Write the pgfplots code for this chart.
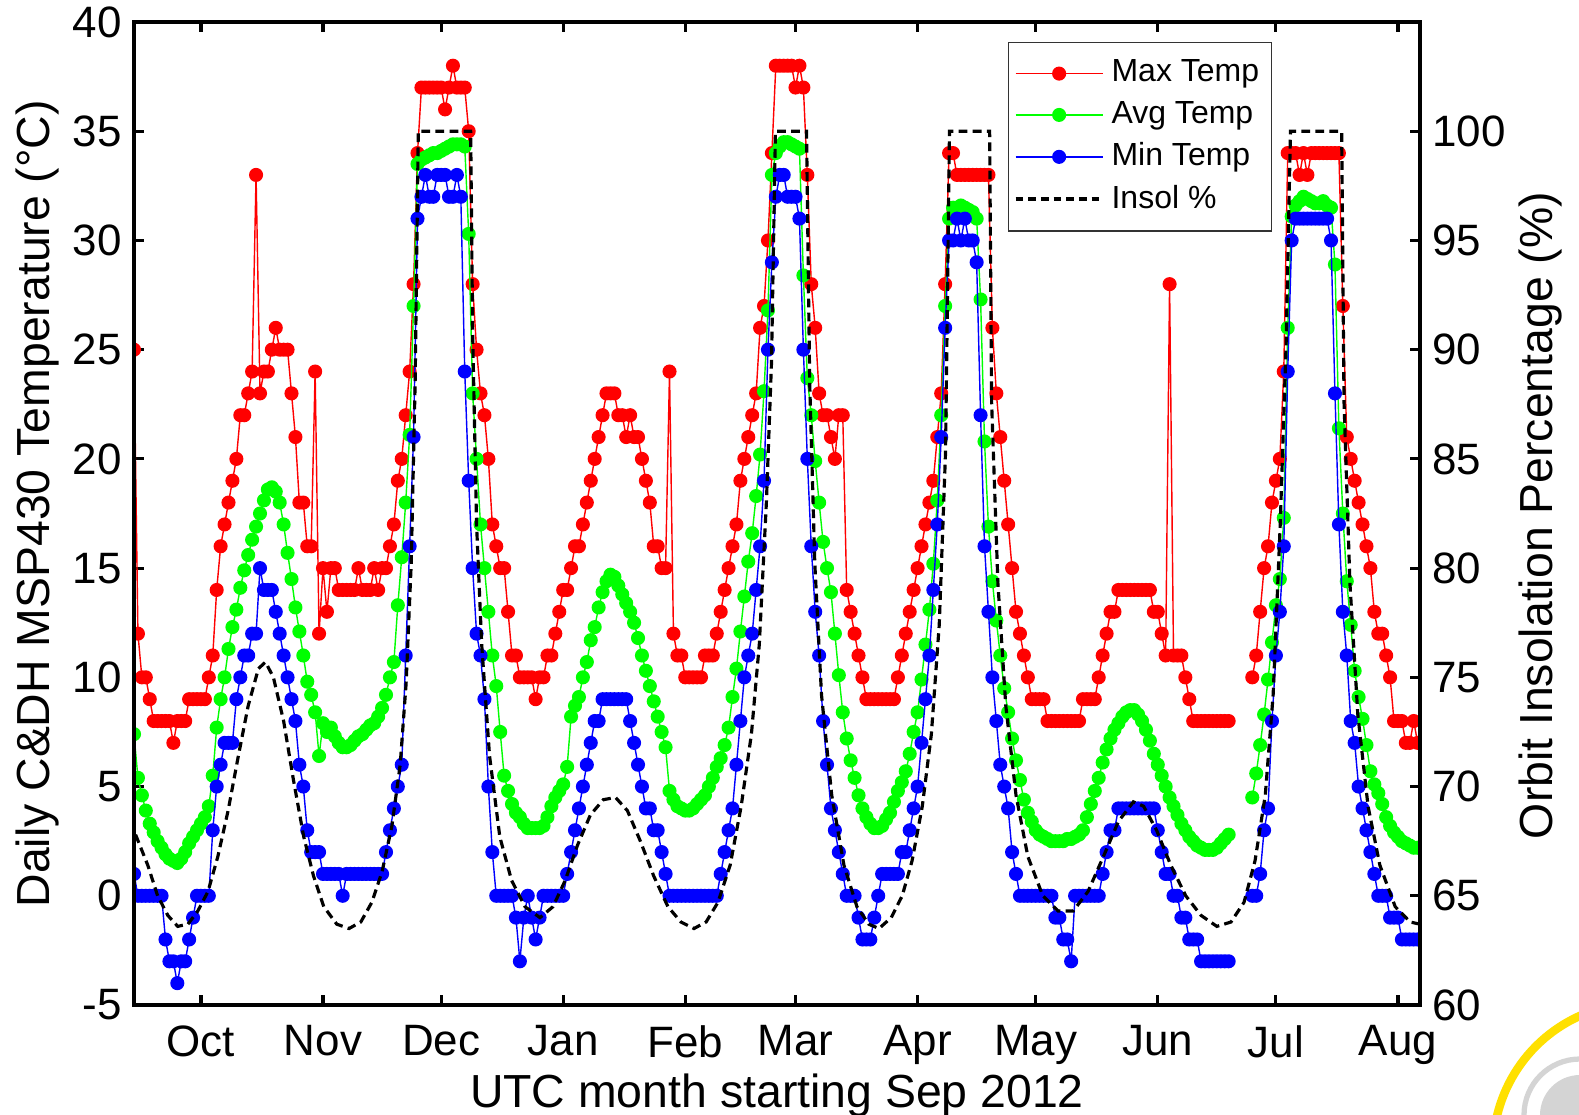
\documentclass[border=0pt]{standalone}
\usepackage{fontspec}
\setmainfont{Liberation Sans}
\usepackage{pgfplots}
\usepackage{pgfplotstable}
\pgfplotsset{compat=1.18}

\definecolor{mred}{rgb}{1,0,0}
\definecolor{mgreen}{rgb}{0,1,0}
\definecolor{mblue}{rgb}{0,0,1}
\definecolor{logoyel}{rgb}{1,0.88,0}
\definecolor{logogray}{rgb}{0.83,0.83,0.83}

% day 0 = 1 Oct 2012; daily max / avg / min temperature (deg C)
\pgfplotstableread{
d mx av mn
-17 25 7.4 1
-16 12 5.4 0
-15 10 4.6 0
-14 10 3.9 0
-13 9 3.3 0
-12 8 2.9 0
-11 8 2.5 0
-10 8 2.2 0
-9 8 1.9 -2
-8 8 1.7 -3
-7 7 1.6 -3
-6 8 1.5 -4
-5 8 1.7 -3
-4 8 2.0 -3
-3 9 2.4 -2
-2 9 2.7 -1
-1 9 3.0 0
0 9 3.3 0
1 9 3.6 0
2 10 4.1 0
3 11 5.5 3
4 14 7.7 5
5 16 9.0 6
6 17 10.0 7
7 18 11.3 7
8 19 12.3 7
9 20 13.1 9
10 22 14.1 10
11 22 14.9 11
12 23 15.6 11
13 24 16.3 12
14 33 16.9 12
15 23 17.5 15
16 24 18.1 14
17 24 18.6 14
18 25 18.7 14
19 26 18.5 13
20 25 18.0 12
21 25 17.0 11
22 25 15.7 10
23 23 14.5 9
24 21 13.2 8
25 18 12.1 6
26 18 11.0 5
27 16 9.8 3
28 16 9.2 2
29 24 8.4 2
30 12 6.4 2
31 15 7.9 1
32 13 7.5 1
33 15 7.7 1
34 15 7.3 1
35 14 7.0 1
36 14 6.8 0
37 14 6.8 1
38 14 6.9 1
39 14 7.1 1
40 15 7.3 1
41 14 7.4 1
42 14 7.6 1
43 14 7.8 1
44 15 7.9 1
45 14 8.2 1
46 15 8.6 1
47 15 9.2 2
48 16 10.0 3
49 17 10.7 4
50 19 13.3 5
51 20 15.5 6
52 22 18.0 11
53 24 21.1 16
54 28 27.0 21
55 34 33.5 31
56 37 33.7 32
57 37 33.8 33
58 37 33.9 32
59 37 34.0 32
60 37 34.0 33
61 37 34.1 33
62 36 34.2 33
63 37 34.3 32
64 38 34.4 32
65 37 34.4 33
66 37 34.4 32
67 37 34.3 24
68 35 30.3 19
69 28 23.0 15
70 25 20.0 12
71 23 17.0 11
72 22 15.0 9
73 20 13.0 5
74 17 11.0 2
75 16 9.6 0
76 15 7.5 0
77 15 5.5 0
78 13 4.8 0
79 11 4.2 0
80 11 3.8 -1
81 10 3.6 -3
82 10 3.3 -1
83 10 3.1 0
84 10 3.1 -1
85 9 3.1 -2
86 10 3.1 -1
87 10 3.2 0
88 11 3.6 0
89 11 4.1 0
90 12 4.5 0
91 13 4.8 0
92 14 5.1 0
93 14 5.9 1
94 15 8.2 2
95 16 8.7 3
96 16 9.1 4
97 17 10.0 5
98 18 10.7 6
99 19 11.7 7
100 20 12.3 8
101 21 13.2 8
102 22 13.9 9
103 23 14.4 9
104 23 14.7 9
105 23 14.6 9
106 22 14.2 9
107 22 13.8 9
108 21 13.4 9
109 22 13.0 8
110 21 12.5 7
111 21 11.8 6
112 20 11.0 5
113 19 10.3 4
114 18 9.6 4
115 16 8.9 3
116 16 8.2 3
117 15 7.5 2
118 15 6.8 1
119 24 4.8 0
120 12 4.4 0
121 11 4.1 0
122 11 4.0 0
123 10 3.9 0
124 10 3.9 0
125 10 4.0 0
126 10 4.2 0
127 10 4.4 0
128 11 4.6 0
129 11 5.0 0
130 11 5.4 0
131 12 5.9 0
132 13 6.3 1
133 14 6.9 2
134 15 7.7 3
135 16 9.1 4
136 17 10.4 6
137 19 12.1 8
138 20 13.7 10
139 21 15.3 11
140 22 16.6 12
141 23 18.3 14
142 26 20.2 16
143 27 23.1 19
144 30 26.8 25
145 34 33.0 29
146 38 34.0 32
147 38 34.3 33
148 38 34.5 33
149 38 34.5 32
150 38 34.4 32
151 37 34.3 32
152 38 34.2 31
153 37 28.4 25
154 33 23.7 20
155 28 22.0 16
156 26 19.9 13
157 23 18.0 11
158 22 16.2 8
159 22 15.0 6
160 21 13.9 4
161 20 12.0 3
162 22 10.1 2
163 22 8.4 1
164 14 7.2 0
165 13 6.2 0
166 12 5.4 0
167 11 4.6 -1
168 10 4.0 -2
169 9 3.6 -2
170 9 3.3 -2
171 9 3.1 -1
172 9 3.1 0
173 9 3.2 1
174 9 3.5 1
175 9 3.8 1
176 9 4.3 1
177 10 4.8 1
178 11 5.2 2
179 12 5.7 2
180 13 6.5 3
181 14 7.5 4
182 15 8.4 5
183 16 9.9 7
184 17 11.5 9
185 18 13.1 11
186 19 15.2 14
187 21 18.1 17
188 23 22.0 21
189 28 27.0 26
190 34 31.0 30
191 34 31.5 30
192 33 31.5 31
193 33 31.6 30
194 33 31.5 31
195 33 31.4 30
196 33 31.3 30
197 33 31.0 29
198 33 27.3 22
199 33 20.8 16
200 33 16.9 13
201 26 14.4 10
202 23 12.6 8
203 21 11.0 6
204 19 9.5 5
205 17 8.4 4
206 15 7.2 2
207 13 6.2 1
208 12 5.3 0
209 11 4.4 0
210 10 3.8 0
211 9 3.4 0
212 9 3.0 0
213 9 2.8 0
214 9 2.7 0
215 8 2.6 0
216 8 2.5 0
217 8 2.5 -1
218 8 2.5 -1
219 8 2.5 -2
220 8 2.6 -2
221 8 2.6 -3
222 8 2.7 0
223 8 2.8 0
224 9 3.0 0
225 9 3.6 0
226 9 4.2 0
227 9 4.8 0
228 10 5.4 0
229 11 6.1 1
230 12 6.7 2
231 13 7.2 3
232 13 7.6 3
233 14 7.9 4
234 14 8.2 4
235 14 8.4 4
236 14 8.5 4
237 14 8.5 4
238 14 8.3 4
239 14 8.0 4
240 14 7.6 4
241 14 7.1 4
242 13 6.5 4
243 13 6.0 3
244 12 5.5 2
245 11 5.0 1
246 28 4.5 1
247 11 4.1 0
248 11 3.7 0
249 11 3.3 -1
250 10 3.0 -1
251 9 2.7 -2
252 8 2.5 -2
253 8 2.3 -2
254 8 2.2 -3
255 8 2.1 -3
256 8 2.1 -3
257 8 2.1 -3
258 8 2.2 -3
259 8 2.4 -3
260 8 2.6 -3
261 8 2.8 -3
264 nan nan nan
267 10 4.5 0
268 11 5.6 0
269 13 6.9 1
270 15 8.3 3
271 16 9.9 4
272 18 11.6 8
273 19 13.3 11
274 20 14.5 13
275 24 17.3 16
276 34 26.0 24
277 34 31.1 30
278 34 31.6 31
279 33 31.8 31
280 34 32.0 31
281 33 31.9 31
282 34 31.8 31
283 34 31.7 31
284 34 31.7 31
285 34 31.8 31
286 34 31.6 31
287 34 31.5 30
288 34 28.9 23
289 34 21.4 17
290 27 17.5 13
291 21 14.4 11
292 20 12.4 8
293 19 10.3 7
294 18 9.1 5
295 17 8.1 4
296 16 6.9 3
297 15 5.7 2
298 13 5.1 1
299 12 4.7 0
300 12 4.2 0
301 11 3.6 0
302 10 3.2 -1
303 8 2.9 -1
304 8 2.7 -1
305 8 2.5 -2
306 7 2.4 -2
307 7 2.3 -2
308 8 2.2 -2
309 7 2.2 -2
}\temps

% orbit insolation (%)
\pgfplotstableread{
d ins
-16.6 67.8
-13.5 66.4
-11.0 65.0
-8.4 64.1
-5.9 63.6
-3.3 63.7
-0.8 64.3
1.8 65.2
4.3 66.8
6.9 68.9
9.5 71.4
12.0 73.7
14.6 75.4
16.4 75.7
18.4 75.0
21.0 73.0
23.5 70.3
26.1 67.7
28.6 65.9
31.2 64.5
34.5 63.7
37.6 63.5
40.6 63.8
43.4 64.7
46.0 66.1
48.5 68.2
50.6 71.0
52.1 74.7
53.4 80.2
54.4 88.5
55.2 100
68.5 100
69.0 90.8
70.0 82.0
71.3 76.5
73.3 71.4
75.9 67.7
78.9 65.7
82.3 64.5
86.1 64.0
89.4 64.5
92.5 65.7
95.6 67.3
98.9 68.7
102.2 69.4
105.3 69.5
108.3 68.9
111.6 67.5
115.0 65.9
118.6 64.5
121.9 63.8
125.2 63.5
128.3 63.8
131.3 64.7
134.4 66.4
137.2 69.1
139.8 72.4
141.8 76.5
143.6 83.0
144.9 89.4
145.9 100
153.8 100
154.6 88.5
155.9 80.2
157.6 74.2
160.2 69.6
163.3 66.4
166.6 64.5
169.6 63.7
172.2 63.5
175.3 64.0
178.1 65.0
180.6 66.6
183.2 69.1
185.5 72.4
187.5 77.4
189.1 85.3
190.1 100
200.3 100
200.8 87.6
202.4 79.3
204.4 73.7
207.0 69.6
210.0 66.8
213.8 65.0
217.7 64.3
221.5 64.3
225.3 65.2
229.2 66.8
233.0 68.4
236.8 69.3
239.4 69.1
242.7 68.0
246.3 66.4
250.1 65.0
254.0 64.1
258.0 63.6
261.6 63.8
264.9 64.7
267.7 66.6
270.3 69.6
272.3 74.2
274.1 82.0
275.6 90.3
276.7 100
289.7 100
290.3 87.6
291.8 79.3
293.8 73.3
296.4 69.1
299.4 66.4
303.3 64.5
307.1 63.8
309.6 63.7
}\insol

\begin{document}
\begin{tikzpicture}
\pgfplotsset{
  every axis/.append style={
    at={(0,0)}, anchor=south west,
    width=12.86cm, height=9.83cm, scale only axis,
    xmin=-17, xmax=309.6,
    tick align=inside,
    major tick length=0.1cm,
    axis line style={line width=1pt},
    major tick style={black, line width=0.9pt},
    tick label style={font=\fontsize{12.5}{15}\selectfont},
    label style={font=\fontsize{13.2}{15.5}\selectfont},
    clip marker paths=true,
  },
}
\begin{axis}[
  ymin=-5, ymax=40,
  ytick={-5,0,5,10,15,20,25,30,35,40},
  yticklabels={-5,0,5,10,15,20,25,30,35,40},
  ytick pos=left,
  xtick={0,31,61,92,123,151,182,212,243,273,304},
  xticklabels={Oct,Nov,Dec,Jan,Feb,Mar,Apr,May,Jun,Jul,Aug},
  xticklabel pos=lower,
  xticklabel style={yshift=-0.08cm},
  xlabel={UTC month starting Sep 2012},
  ylabel={Daily C\&DH MSP430 Temperature (°C)},
  xlabel style={at={(axis description cs:0.5,-0.092)}, anchor=center},
  ylabel style={at={(axis description cs:-0.075,0.51)}, anchor=center},
  unbounded coords=jump,
  legend style={
    at={(0.885,0.98)}, anchor=north east,
    draw=black!80, line width=0.4pt, fill=white,
    font=\fontsize{9.1}{10.5}\selectfont,
    inner xsep=1.5pt, inner ysep=3pt,
    row sep=0pt,
    cells={anchor=west},
  },
  legend image code/.code={
    \draw[mark repeat=2,mark phase=2] plot coordinates {(0cm,0cm) (0.435cm,0cm) (0.87cm,0cm)};
  },
]
\addplot[mred, line width=0.4pt, mark=*, mark size=1.8pt, mark options={fill=mred, draw=mred}]
  table[x=d, y=mx] {\temps};
\addplot[mgreen, line width=0.4pt, mark=*, mark size=1.8pt, mark options={fill=mgreen, draw=mgreen}]
  table[x=d, y=av] {\temps};
\addplot[mblue, line width=0.4pt, mark=*, mark size=1.8pt, mark options={fill=mblue, draw=mblue}]
  table[x=d, y=mn] {\temps};
\addlegendimage{black, line width=1.1pt, dash pattern=on 2.2pt off 1.4pt}
\legend{Max Temp, Avg Temp, Min Temp, Insol \%}
\end{axis}

\begin{axis}[
  ymin=60, ymax=105,
  ytick={60,65,70,75,80,85,90,95,100},
  yticklabels={60,65,70,75,80,85,90,95,100},
  ytick pos=right,
  yticklabel pos=right,
  hide x axis,
  ylabel={Orbit Insolation Percentage (\%)},
  ylabel style={at={(axis description cs:1.094,0.498)}, anchor=center, rotate=0},
]
\addplot[black, line width=0.9pt, dash pattern=on 2.5pt off 1.5pt]
  table[x=d, y=ins] {\insol};
\end{axis}

\pgfresetboundingbox
\path (-1.34,-1.09) rectangle (14.45,10.05);
\begin{scope}
  \clip (-1.34,-1.09) rectangle (14.45,10.05);
  \draw[logoyel, line width=2.4pt] (15.06,-1.45) ++(112:1.47) arc[start angle=112, end angle=185, radius=1.47];
  \draw[logogray, line width=1.5pt] (14.46,-1.10) circle (0.56);
  \fill[logogray] (14.46,-1.10) circle (0.40);
\end{scope}
\end{tikzpicture}
\end{document}
